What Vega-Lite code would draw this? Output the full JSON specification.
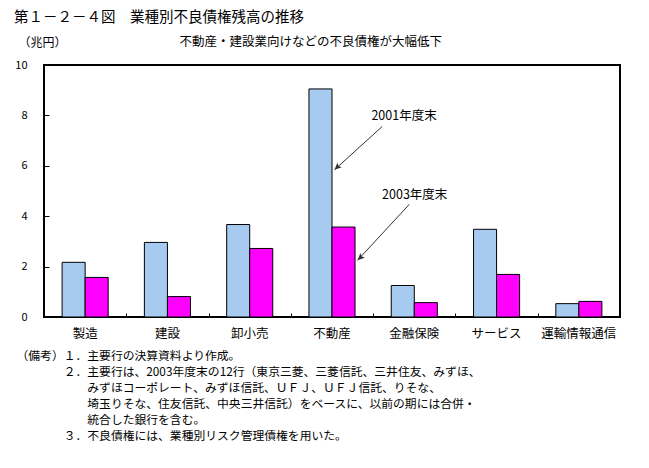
{
  "$schema": "https://vega.github.io/schema/vega-lite/v6.json",
  "width": 576,
  "height": 252,
  "autosize": {"type": "none"},
  "padding": {"left": 44, "top": 65, "right": 29, "bottom": 151},
  "background": "white",
  "config": {
    "font": "Noto Sans CJK JP",
    "view": {"stroke": "black", "strokeWidth": 2},
    "axis": {"labelColor": "black", "titleColor": "black", "titleFontWeight": "normal", "tickColor": "black"}
  },
  "title": {
    "text": "第１－２－４図　業種別不良債権残高の推移",
    "anchor": "start",
    "frame": "group",
    "fontSize": 14.5,
    "fontWeight": "normal",
    "color": "black",
    "dx": -30,
    "offset": 10
  },
  "datasets": {
    "bars": [
      {"category": "製造", "year": "2001", "value": 2.17},
      {"category": "製造", "year": "2003", "value": 1.57},
      {"category": "建設", "year": "2001", "value": 2.96},
      {"category": "建設", "year": "2003", "value": 0.81},
      {"category": "卸小売", "year": "2001", "value": 3.67},
      {"category": "卸小売", "year": "2003", "value": 2.72},
      {"category": "不動産", "year": "2001", "value": 9.05},
      {"category": "不動産", "year": "2003", "value": 3.57},
      {"category": "金融保険", "year": "2001", "value": 1.25},
      {"category": "金融保険", "year": "2003", "value": 0.57},
      {"category": "サービス", "year": "2001", "value": 3.48},
      {"category": "サービス", "year": "2003", "value": 1.69},
      {"category": "運輸情報通信", "year": "2001", "value": 0.53},
      {"category": "運輸情報通信", "year": "2003", "value": 0.62}
    ],
    "arrows": [
      {"x1": 4.11, "y1": 7.56, "x2": 3.53, "y2": 5.84},
      {"x1": 4.44, "y1": 4.47, "x2": 3.81, "y2": 2.25}
    ],
    "labels": [
      {"label": "2001年度末", "x": 4.375, "y": 7.99},
      {"label": "2003年度末", "x": 4.505, "y": 4.84}
    ]
  },
  "layer": [
    {
      "data": {"name": "bars"},
      "mark": {"type": "bar", "stroke": "black", "strokeWidth": 1},
      "encoding": {
        "x": {
          "field": "category",
          "type": "nominal",
          "sort": ["製造", "建設", "卸小売", "不動産", "金融保険", "サービス", "運輸情報通信"],
          "scale": {"paddingInner": 0.44, "paddingOuter": 0.22},
          "axis": {
            "ticks": false,
            "domain": false,
            "labelAngle": 0,
            "labelFontSize": 12.5,
            "labelPadding": 10,
            "title": [
              "（備考）１．主要行の決算資料より作成。",
              "\u200b　　　　２．主要行は、2003年度末の12行（東京三菱、三菱信託、三井住友、みずほ、",
              "\u200b　　　　　　みずほコーポレート、みずほ信託、ＵＦＪ、ＵＦＪ信託、りそな、",
              "\u200b　　　　　　埼玉りそな、住友信託、中央三井信託）をベースに、以前の期には合併・",
              "\u200b　　　　　　統合した銀行を含む。",
              "\u200b　　　　３．不良債権には、業種別リスク管理債権を用いた。"
            ],
            "titleAnchor": "start",
            "titleAlign": "left",
            "titleBaseline": "top",
            "titleX": -28,
            "titleY": 33,
            "titleFontSize": 11.8,
            "titleLineHeight": 16
          }
        },
        "xOffset": {"field": "year", "type": "nominal", "scale": {"paddingInner": 0}},
        "y": {
          "field": "value",
          "type": "quantitative",
          "scale": {"domain": [0, 10], "nice": false},
          "axis": {
            "values": [0, 2, 4, 6, 8, 10],
            "grid": false,
            "domain": false,
            "ticks": false,
            "labelPadding": 17,
            "labelFontSize": 11,
            "title": "（兆円）",
            "titleAngle": 0,
            "titleX": -26,
            "titleY": -23,
            "titleAlign": "left",
            "titleBaseline": "middle",
            "titleFontSize": 12
          }
        },
        "color": {
          "field": "year",
          "type": "nominal",
          "scale": {"domain": ["2001", "2003"], "range": ["#A6CAF0", "#FF00FF"]},
          "legend": null
        }
      }
    },
    {
      "data": {"name": "arrows"},
      "mark": {"type": "rule", "color": "#333333", "strokeWidth": 1},
      "encoding": {
        "x": {
          "field": "x1",
          "type": "quantitative",
          "scale": {"domain": [0, 7], "nice": false, "zero": false},
          "axis": {
            "orient": "top",
            "offset": -252,
            "values": [1, 2, 3, 4, 5, 6],
            "domain": false,
            "ticks": true,
            "tickSize": 4,
            "tickWidth": 1,
            "tickColor": "black",
            "labels": false,
            "grid": false,
            "title": "不動産・建設業向けなどの不良債権が大幅低下",
            "titleX": 135,
            "titleY": -276,
            "titleAlign": "left",
            "titleAnchor": "start",
            "titleBaseline": "middle",
            "titleFontSize": 12.5
          }
        },
        "x2": {"field": "x2"},
        "y": {
          "field": "y1",
          "type": "quantitative",
          "scale": {"domain": [0, 10], "nice": false},
          "axis": {
            "orient": "right",
            "offset": -576,
            "values": [2, 4, 6, 8],
            "domain": false,
            "ticks": true,
            "tickSize": 5,
            "tickWidth": 1,
            "tickColor": "black",
            "labels": false,
            "grid": false,
            "title": null
          }
        },
        "y2": {"field": "y2"}
      }
    },
    {
      "data": {"name": "arrows"},
      "mark": {"type": "point", "shape": "M0,0L-0.45,1L0,0.8L0.45,1Z", "angle": 226, "filled": true, "color": "#333333", "size": 200, "opacity": 1},
      "encoding": {
        "x": {"field": "x2", "type": "quantitative", "scale": {"domain": [0, 7], "nice": false, "zero": false}, "axis": null},
        "y": {"field": "y2", "type": "quantitative", "scale": {"domain": [0, 10], "nice": false}, "axis": null}
      }
    },
    {
      "data": {"name": "labels"},
      "mark": {"type": "text", "fontSize": 12.5, "color": "black", "align": "center", "baseline": "middle"},
      "encoding": {
        "x": {"field": "x", "type": "quantitative", "scale": {"domain": [0, 7], "nice": false, "zero": false}, "axis": null},
        "y": {"field": "y", "type": "quantitative", "scale": {"domain": [0, 10], "nice": false}, "axis": null},
        "text": {"field": "label"}
      }
    }
  ],
  "resolve": {"scale": {"x": "independent"}, "axis": {"x": "independent", "y": "independent"}}
}
